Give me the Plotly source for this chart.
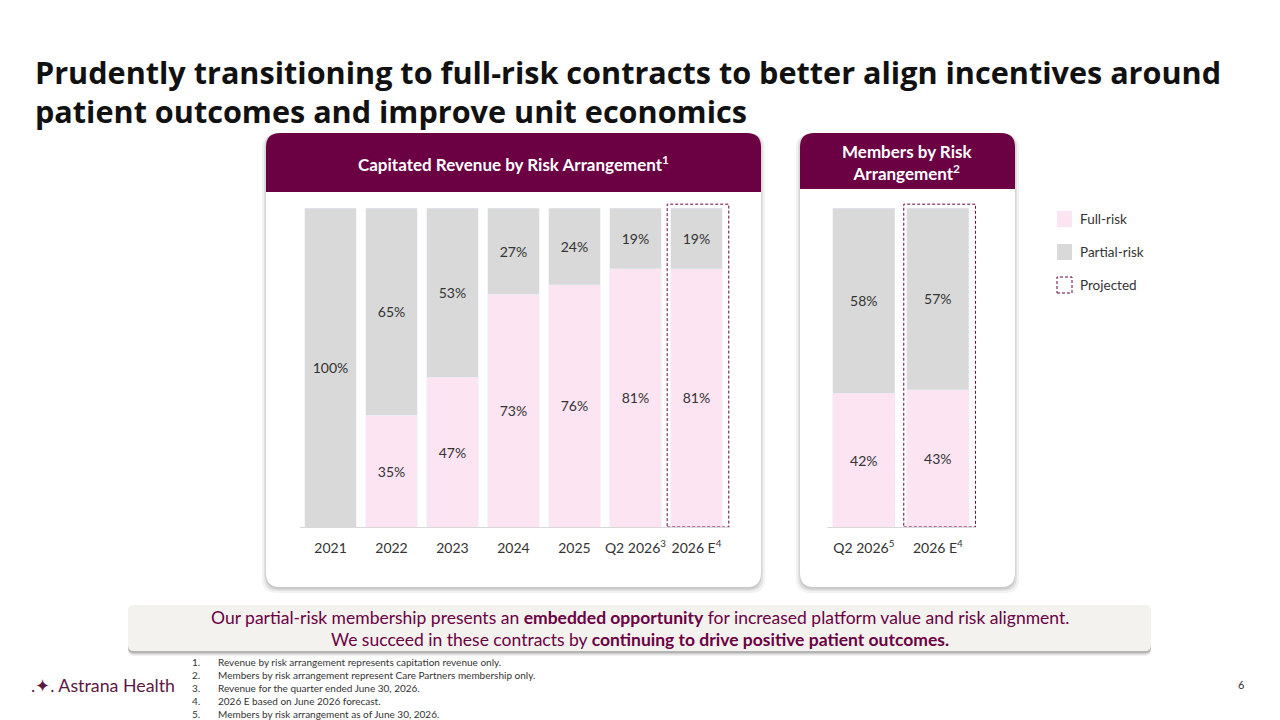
import plotly.graph_objects as go

W, H = 1280, 720

# data
rev_periods = ["2021", "2022", "2023", "2024", "2025", "Q2 2026<sup>3</sup>", "2026 E<sup>4</sup>"]
rev_full = [0, 35, 47, 73, 76, 81, 81]
rev_partial = [100, 65, 53, 27, 24, 19, 19]

mem_periods = ["Q2 2026<sup>5</sup>", "2026 E<sup>4</sup>"]
mem_full = [42, 43]
mem_partial = [58, 57]

projected_rev = "2026 E<sup>4</sup>"
projected_mem = "2026 E<sup>4</sup>"

footnotes = [
    "Revenue by risk arrangement represents capitation revenue only.",
    "Members by risk arrangement represent Care Partners membership only.",
    "Revenue for the quarter ended June 30, 2026.",
    "2026 E based on June 2026 forecast.",
    "Members by risk arrangement as of June 30, 2026.",
]

PLUM = "#6B0043"
PINK = "#FCE4F2"
GREY = "#D9D9D9"
TXT = "#333333"
FONT = "Lato"


def px(x):
    return x / W


def py(y):
    return 1 - y / H


def rrect(x0, y0, x1, y1, r, top_only=False):
    # rounded rectangle path in paper coords, built from pixel corners
    def p(x, y):
        return f"{px(x):.5f},{py(y):.5f}"
    rb = 0 if top_only else r
    return (f"M {p(x0 + r, y0)} L {p(x1 - r, y0)} Q {p(x1, y0)} {p(x1, y0 + r)} "
            f"L {p(x1, y1 - rb)} Q {p(x1, y1)} {p(x1 - rb, y1)} "
            f"L {p(x0 + rb, y1)} Q {p(x0, y1)} {p(x0, y1 - rb)} "
            f"L {p(x0, y0 + r)} Q {p(x0, y0)} {p(x0 + r, y0)} Z")


def labels(vals):
    return [f"{v}%" if v > 0 else "" for v in vals]


fig = go.Figure()

bar_kw = dict(textposition="inside", insidetextanchor="middle", textangle=0,
              textfont=dict(family=FONT, size=14, color=TXT), hoverinfo="skip",
              showlegend=False)

fig.add_trace(go.Bar(x=rev_periods, y=rev_full, marker_color=PINK, text=labels(rev_full),
                     xaxis="x", yaxis="y", **bar_kw))
fig.add_trace(go.Bar(x=rev_periods, y=rev_partial, marker_color=GREY, text=labels(rev_partial),
                     xaxis="x", yaxis="y", **bar_kw))
fig.add_trace(go.Bar(x=mem_periods, y=mem_full, marker_color=PINK, text=labels(mem_full),
                     xaxis="x2", yaxis="y2", **bar_kw))
fig.add_trace(go.Bar(x=mem_periods, y=mem_partial, marker_color=GREY, text=labels(mem_partial),
                     xaxis="x2", yaxis="y2", **bar_kw))

shapes = []
# card shadows + cards
for (x0, y0, x1, y1) in [(266, 133, 761, 587), (800, 133, 1015, 587)]:
    for d, op in [(5, 0.05), (3, 0.07), (1.5, 0.09)]:
        shapes.append(dict(type="path", xref="paper", yref="paper", layer="below",
                           path=rrect(x0 - d + 1, y0 + 1, x1 + d - 1, y1 + d + 1, 14),
                           fillcolor=f"rgba(0,0,0,{op})", line=dict(width=0)))
    shapes.append(dict(type="path", xref="paper", yref="paper", layer="below",
                       path=rrect(x0, y0, x1, y1, 14), fillcolor="white", line=dict(width=0)))
# header bands
shapes.append(dict(type="path", xref="paper", yref="paper", layer="below",
                   path=rrect(266, 133, 761, 192, 14, top_only=True), fillcolor=PLUM, line=dict(width=0)))
shapes.append(dict(type="path", xref="paper", yref="paper", layer="below",
                   path=rrect(800, 133, 1015, 189, 14, top_only=True), fillcolor=PLUM, line=dict(width=0)))

# projected dashed boxes
i = rev_periods.index(projected_rev)
shapes.append(dict(type="rect", xref="x", yref="y", x0=i - 0.48, x1=i + 0.53, y0=0,
                   y1=(rev_full[i] + rev_partial[i]) * 1.012,
                   line=dict(color=PLUM, width=1, dash="3px,2px")))
j = mem_periods.index(projected_mem)
shapes.append(dict(type="rect", xref="x2", yref="y2", x0=j - 0.46, x1=j + 0.51, y0=0,
                   y1=(mem_full[j] + mem_partial[j]) * 1.012,
                   line=dict(color=PLUM, width=1, dash="3px,2px")))

# bottom banner
for d, op in [(4, 0.06), (2.5, 0.1), (1.2, 0.16)]:
    shapes.append(dict(type="path", xref="paper", yref="paper", layer="below",
                       path=rrect(128, 606, 1151, 652 + d, 6),
                       fillcolor=f"rgba(0,0,0,{op})", line=dict(width=0)))
shapes.append(dict(type="path", xref="paper", yref="paper", layer="below",
                   path=rrect(128, 605, 1151, 651, 6), fillcolor="#F3F2EE", line=dict(width=0)))

# legend swatches
shapes.append(dict(type="rect", xref="paper", yref="paper", x0=px(1057), x1=px(1072),
                   y0=py(227), y1=py(211), fillcolor=PINK, line=dict(width=0)))
shapes.append(dict(type="rect", xref="paper", yref="paper", x0=px(1057), x1=px(1072),
                   y0=py(260), y1=py(244), fillcolor=GREY, line=dict(width=0)))
shapes.append(dict(type="rect", xref="paper", yref="paper", x0=px(1057), x1=px(1072),
                   y0=py(293), y1=py(277), fillcolor="rgba(0,0,0,0)",
                   line=dict(color=PLUM, width=1, dash="3px,2px")))

ann = []


def text(x, y, s, size, color=TXT, xanchor="left", family=FONT, **kw):
    ann.append(dict(x=px(x), y=py(y), xref="paper", yref="paper", text=s, showarrow=False,
                    xanchor=xanchor, yanchor="middle", font=dict(family=family, size=size, color=color), **kw))


text(33, 72, "<b>Prudently transitioning to full-risk contracts to better align incentives around</b>", 30.6, "#111111",
     family="Open Sans")
text(33, 111, "<b>patient outcomes and improve unit economics</b>", 30.6, "#111111", family="Open Sans")

text(513, 164, "<b>Capitated Revenue by Risk Arrangement<sup>1</sup></b>", 17, "white", xanchor="center")
text(907, 163, "<b>Members by Risk<br>Arrangement<sup>2</sup></b>", 17, "white", xanchor="center", align="center")

text(1078, 219, "Full-risk", 13.5)
text(1078, 252, "Partial-risk", 13.5)
text(1078, 285, "Projected", 13.5)

text(640, 617, "Our partial-risk membership presents an <b>embedded opportunity</b> for increased platform value and risk alignment.",
     17.5, PLUM, xanchor="center")
text(640, 639, "We succeed in these contracts by <b>continuing to drive positive patient outcomes.</b>",
     17.5, PLUM, xanchor="center")

for k, note in enumerate(footnotes):
    yy = 662 + 13 * k
    text(190, yy, f"{k + 1}.", 10)
    text(216, yy, note, 10)

text(29, 685, ".✦. Astrana Health", 17.8, "#5A1845")
text(1241, 684, "6", 11, xanchor="center")

axis_common = dict(showline=True, linecolor=GREY, linewidth=1, ticks="", showgrid=False,
                   tickfont=dict(family=FONT, size=14, color=TXT), ticklabelstandoff=8,
                   fixedrange=True)
# a little headroom above 100% so the dashed "projected" boxes are not clipped
y_top = 100 * (527 - 203) / (527 - 208)
y_common = dict(visible=False, showgrid=False, range=[0, y_top], fixedrange=True)

fig.update_layout(
    width=W, height=H,
    margin=dict(l=0, r=0, t=0, b=0),
    paper_bgcolor="white", plot_bgcolor="rgba(0,0,0,0)",
    barmode="stack", bargap=0.16,
    font=dict(family=FONT, color=TXT),
    xaxis=dict(domain=[px(300), px(730)], range=[-0.5, 6.55], type="category", anchor="y", **axis_common),
    yaxis=dict(domain=[py(527), py(203)], anchor="x", **y_common),
    xaxis2=dict(domain=[px(826.8), px(976.3)], range=[-0.5, 1.52], type="category", anchor="y2", **axis_common),
    yaxis2=dict(domain=[py(527), py(203)], anchor="x2", **y_common),
    shapes=shapes,
    annotations=ann,
)

fig.write_html("out.html", config={"displayModeBar": False},
               post_script="document.body.style.margin='0';document.body.style.overflow='hidden';")
